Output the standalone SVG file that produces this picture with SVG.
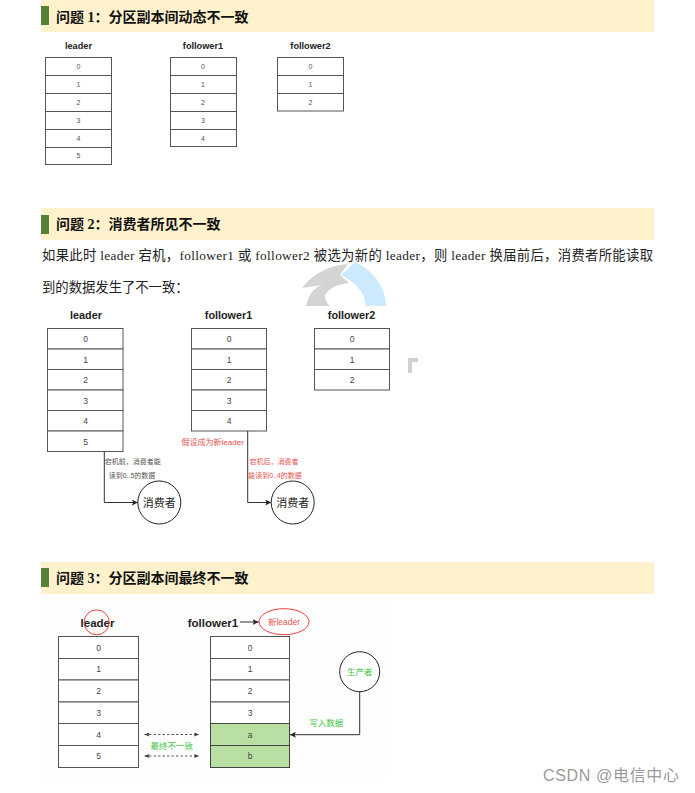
<svg xmlns="http://www.w3.org/2000/svg" width="695" height="793" viewBox="0 0 695 793">
<defs>
<marker id="arr" markerWidth="7" markerHeight="6" refX="6" refY="3" orient="auto" markerUnits="userSpaceOnUse"><path d="M0,0 L6,3 L0,6 L1.5,3 Z" fill="#222"/></marker>
<marker id="dash" markerWidth="6" markerHeight="5" refX="5" refY="2.5" orient="auto-start-reverse" markerUnits="userSpaceOnUse"><path d="M0,0.5 L5,2.5 L0,4.5 L1,2.5 Z" fill="#333"/></marker>
</defs>
<style>
text{font-family:"Liberation Sans","Noto Sans CJK SC",sans-serif}
.ban{fill:#fff1cc}
.bar{fill:#548235}
.ttl{font-family:"Liberation Serif","Noto Sans CJK SC",serif;font-size:14px;font-weight:bold;fill:#111}
.para{font-family:"Liberation Serif","Noto Sans CJK SC",serif;font-size:13.33px;fill:#222}
.c{fill:#fff;stroke:#555;stroke-width:1}
.g{fill:#b9dfa3;stroke:#444;stroke-width:1}
.hd{font-weight:bold;text-anchor:middle;fill:#222}
.t7{font-size:7px;text-anchor:middle;fill:#555}
.t8{font-size:8.5px;text-anchor:middle;fill:#444}
.lab{font-size:7px;text-anchor:middle;fill:#555}
.red{font-size:7px;text-anchor:middle;fill:#e8514f}
.grn{font-size:8.5px;text-anchor:middle;fill:#3fc43f}
.ln{fill:none;stroke:#333;stroke-width:1}
.dl{fill:none;stroke:#333;stroke-width:.8;stroke-dasharray:2.5 2}
.nd{fill:#fff;stroke:#222;stroke-width:1}
</style>

<g id="watermark">
<path d="M341,275 L355,262 C372,270 386,286 386,306 L366,306 C365,292 354,281 341,275 Z" fill="#cde9fd"/>
<path d="M306,306 C308,296 313,288 322,285 L302,288 C312,274 330,265 348,264 L340,275 L349,283 C335,284 326,291 325,296 C325,300 327,304 330,306 Z" fill="#d4d4d4"/>
<path d="M408,358 H418 V362 H412 V373 H408 Z" fill="#d0d0d0"/>
</g>

<g id="section1">
<rect class="ban" x="41" y="0" width="613" height="32"/>
<rect class="bar" x="41" y="6" width="8" height="19"/>
<text class="ttl" x="56" y="21.500">问题 1：分区副本间动态不一致</text>
</g>
<g id="d1-leader">
<text class="hd" x="78.500" y="48.700" font-size="9.200">leader</text>
<rect class="c" x="45.500" y="57.500" width="66" height="18"/><text class="t7" x="78.500" y="69">0</text>
<rect class="c" x="45.500" y="75.500" width="66" height="18"/><text class="t7" x="78.500" y="87">1</text>
<rect class="c" x="45.500" y="93.500" width="66" height="18"/><text class="t7" x="78.500" y="105">2</text>
<rect class="c" x="45.500" y="111.500" width="66" height="18"/><text class="t7" x="78.500" y="123">3</text>
<rect class="c" x="45.500" y="129.500" width="66" height="18"/><text class="t7" x="78.500" y="141">4</text>
<rect class="c" x="45.500" y="147.500" width="66" height="17"/><text class="t7" x="78.500" y="158">5</text>
</g>
<g id="d1-follower1">
<text class="hd" x="203" y="48.700" font-size="9.200">follower1</text>
<rect class="c" x="170.500" y="57.500" width="66" height="18"/><text class="t7" x="203" y="69">0</text>
<rect class="c" x="170.500" y="75.500" width="66" height="18"/><text class="t7" x="203" y="87">1</text>
<rect class="c" x="170.500" y="93.500" width="66" height="18"/><text class="t7" x="203" y="105">2</text>
<rect class="c" x="170.500" y="111.500" width="66" height="18"/><text class="t7" x="203" y="123">3</text>
<rect class="c" x="170.500" y="129.500" width="66" height="17"/><text class="t7" x="203" y="141">4</text>
</g>
<g id="d1-follower2">
<text class="hd" x="310.500" y="48.700" font-size="9.200">follower2</text>
<rect class="c" x="277.500" y="57.500" width="66" height="18"/><text class="t7" x="310.500" y="69">0</text>
<rect class="c" x="277.500" y="75.500" width="66" height="18"/><text class="t7" x="310.500" y="87">1</text>
<rect class="c" x="277.500" y="93.500" width="66" height="17.500"/><text class="t7" x="310.500" y="105">2</text>
</g>

<g id="section2">
<rect class="ban" x="41" y="208" width="613" height="32"/>
<rect class="bar" x="41" y="215" width="8" height="19"/>
<text class="ttl" x="56" y="229">问题 2：消费者所见不一致</text>
<text class="para" x="42" y="260" textLength="611" lengthAdjust="spacing">如果此时 leader 宕机，follower1 或 follower2 被选为新的 leader，则 leader 换届前后，消费者所能读取</text>
<text class="para" x="42" y="292">到的数据发生了不一致：</text>
</g>

<g id="d2-leader">
<text class="hd" x="86" y="319" font-size="10.800">leader</text>
<rect class="c" x="47.500" y="328.500" width="75.500" height="20.500"/><text class="t8" x="85.500" y="342">0</text>
<rect class="c" x="47.500" y="349" width="75.500" height="20.500"/><text class="t8" x="85.500" y="362.500">1</text>
<rect class="c" x="47.500" y="369.500" width="75.500" height="20.500"/><text class="t8" x="85.500" y="383">2</text>
<rect class="c" x="47.500" y="390" width="75.500" height="20.500"/><text class="t8" x="85.500" y="403.500">3</text>
<rect class="c" x="47.500" y="410.500" width="75.500" height="20.500"/><text class="t8" x="85.500" y="424">4</text>
<rect class="c" x="47.500" y="431" width="75.500" height="20.500"/><text class="t8" x="85.500" y="444.500">5</text>
</g>
<g id="d2-follower1">
<text class="hd" x="228.500" y="319" font-size="10.800">follower1</text>
<rect class="c" x="191.500" y="328.500" width="75" height="20.500"/><text class="t8" x="229" y="342">0</text>
<rect class="c" x="191.500" y="349" width="75" height="20.500"/><text class="t8" x="229" y="362.500">1</text>
<rect class="c" x="191.500" y="369.500" width="75" height="20.500"/><text class="t8" x="229" y="383">2</text>
<rect class="c" x="191.500" y="390" width="75" height="20.500"/><text class="t8" x="229" y="403.500">3</text>
<rect class="c" x="191.500" y="410.500" width="75" height="20.500"/><text class="t8" x="229" y="424">4</text>
</g>
<g id="d2-follower2">
<text class="hd" x="351.500" y="319" font-size="10.800">follower2</text>
<rect class="c" x="314.500" y="328.500" width="75" height="20.500"/><text class="t8" x="352" y="342">0</text>
<rect class="c" x="314.500" y="349" width="75" height="20.500"/><text class="t8" x="352" y="362.500">1</text>
<rect class="c" x="314.500" y="369.500" width="75" height="20.500"/><text class="t8" x="352" y="383">2</text>
</g>
<g id="d2-consumer1">
<circle class="nd" cx="159.300" cy="502.500" r="21.500"/>
<text x="159.300" y="506.500" font-size="11" text-anchor="middle" fill="#222">消费者</text>
</g>
<g id="d2-consumer2">
<circle class="nd" cx="292.700" cy="502.500" r="21.500"/>
<text x="292.700" y="506.500" font-size="11" text-anchor="middle" fill="#222">消费者</text>
</g>

<g id="section3">
<rect class="ban" x="41" y="562" width="613" height="32"/>
<rect class="bar" x="41" y="568" width="8" height="19"/>
<text class="ttl" x="56" y="583">问题 3：分区副本间最终不一致</text>
<rect x="41" y="594" width="344" height="183" fill="#fdfdfd"/>
</g>
<g id="d3-leader">
<text class="hd" x="97.500" y="626.500" font-size="11.500">leader</text>
<ellipse cx="96.700" cy="622.300" rx="12.500" ry="12.500" fill="none" stroke="#e8413f" stroke-width="1"/>
<rect class="c" x="58.500" y="636.500" width="80" height="22"/><text class="t8" x="98.500" y="650.500">0</text>
<rect class="c" x="58.500" y="658.500" width="80" height="21.500"/><text class="t8" x="98.500" y="672">1</text>
<rect class="c" x="58.500" y="680" width="80" height="22"/><text class="t8" x="98.500" y="694">2</text>
<rect class="c" x="58.500" y="702" width="80" height="21.500"/><text class="t8" x="98.500" y="715.500">3</text>
<rect class="c" x="58.500" y="723.500" width="80" height="22"/><text class="t8" x="98.500" y="737.500">4</text>
<rect class="c" x="58.500" y="745.500" width="80" height="22"/><text class="t8" x="98.500" y="759">5</text>
</g>
<g id="d3-follower1">
<text class="hd" x="213" y="626.500" font-size="11.500">follower1</text>
<rect class="c" x="210.500" y="636.500" width="79" height="22"/><text class="t8" x="250" y="650.500">0</text>
<rect class="c" x="210.500" y="658.500" width="79" height="21.500"/><text class="t8" x="250" y="672">1</text>
<rect class="c" x="210.500" y="680" width="79" height="22"/><text class="t8" x="250" y="694">2</text>
<rect class="c" x="210.500" y="702" width="79" height="21.500"/><text class="t8" x="250" y="715.500">3</text>
<rect class="g" x="210.500" y="723.500" width="79" height="22"/><text class="t8" x="250" y="737.500">a</text>
<rect class="g" x="210.500" y="745.500" width="79" height="22"/><text class="t8" x="250" y="759">b</text>
</g>
<g id="d3-newleader">
<ellipse cx="284" cy="621.700" rx="25" ry="13" fill="#fff" stroke="#e8413f" stroke-width="1"/>
<text x="284" y="624.500" font-size="8.500" text-anchor="middle" fill="#e8514f">新leader</text>
</g>
<g id="d3-producer">
<circle class="nd" cx="359.700" cy="671.700" r="20"/>
<text class="grn" x="359.700" y="675">生产者</text>
</g>

<g id="connectors">
<path class="ln" d="M104.300,451.500 V502.500 H137.800" marker-end="url(#arr)"/>
<path class="ln" d="M247.700,431 V502.500 H271.200" marker-end="url(#arr)"/>
<path class="ln" d="M240,622 H258.500" marker-end="url(#arr)"/>
<path class="ln" d="M359.700,691.700 V734.700 H290" marker-end="url(#arr)"/>
<path class="dl" d="M144.500,734.500 H199" marker-start="url(#dash)" marker-end="url(#dash)"/>
<path class="dl" d="M144.500,756 H199" marker-start="url(#dash)" marker-end="url(#dash)"/>
</g>
<g id="labels">
<text class="lab" x="132.700" y="464">宕机前，消费者能</text>
<text class="lab" x="132" y="477.500">读到0..5的数据</text>
<text class="red" style="font-size:8px" x="212.700" y="444.500">假设成为新leader</text>
<text class="red" x="274" y="464">宕机后，消费者</text>
<text class="red" x="275" y="477.500">能读到0..4的数据</text>
<text class="grn" x="171.700" y="749">最终不一致</text>
<text class="grn" x="326.300" y="726">写入数据</text>
</g>
<text id="credit" x="543" y="781" font-size="16" fill="#9a9a9a" textLength="136" lengthAdjust="spacing">CSDN @电信中心</text>
</svg>
